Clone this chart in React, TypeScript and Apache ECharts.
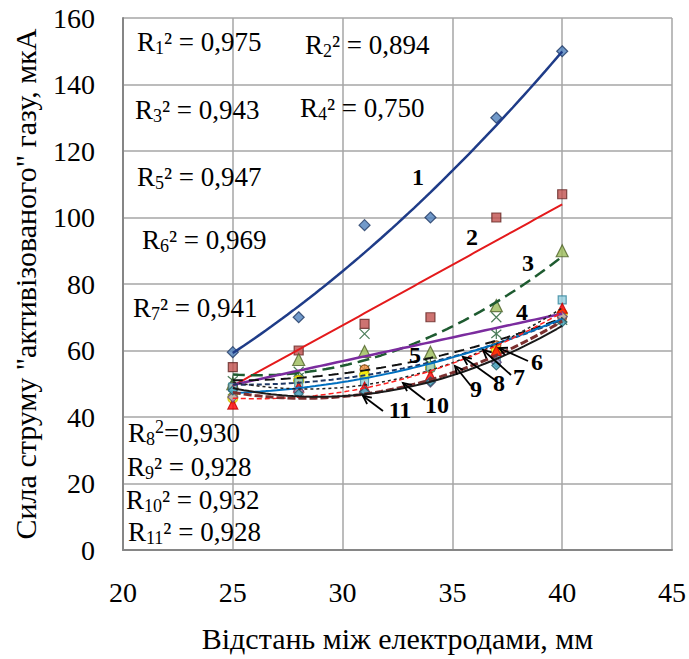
import React, { useEffect, useRef } from "react";
import * as echarts from "echarts";

// ---------- data ----------
const xValues = [25, 28, 31, 34, 37, 40];
const s1 = [59.5, 70, 97.7, 100, 130, 150];
const s2 = [55, 60, 68, 70, 100, 107];
const s3 = [50, 57.3, 59.7, 59.5, 73.5, 90];
const s4 = [48, 53.6, 65, 55.6, 70, 70];
const s5 = [51, 52, 54.3, 56, 65, 69];
const s6 = [49, 51, 54.3, 54.6, 61.5, 70];
const s7 = [45.7, 51, 52.6, 55, 60, 71];
const s8 = [49, 50.3, 50.6, 55, 57.2, 75.2];
const s9 = [43.9, 49, 49, 52.5, 60, 72.7];
const s10 = [46, 47.8, 47.5, 50.5, 56.5, 70.2];
const s11 = [48, 47, 47.6, 50.6, 55.5, 68.5];
const seriesValues = [s1, s2, s3, s4, s5, s6, s7, s8, s9, s10, s11];
const trendDegree = [2, 1, 2, 1, 2, 2, 2, 2, 2, 2, 2];
const r2Values = ["0,975", "0,894", "0,943", "0,750", "0,947", "0,969", "0,941", "0,930", "0,928", "0,932", "0,928"];
const curveNames = ["1", "2", "3", "4", "5", "6", "7", "8", "9", "10", "11"];
const xAxisTitle = "Відстань між електродами, мм";
const yAxisTitle = "Сила струму \"активізованого\" газу, мкА";

const FONT = "'Liberation Serif', 'Times New Roman', serif";

const X_PATH = "path://M0,0L10,10M10,0L0,10";
const STAR_PATH = "path://M0,0L10,10M10,0L0,10M5,-1L5,11";

const markerStyles = [
  { symbol: "diamond", size: 11, color: "#4F81BD", border: "#1F3864" },
  { symbol: "rect", size: 9, color: "#C0504D", border: "#632523" },
  { symbol: "triangle", size: 12, color: "#9BBB59", border: "#4F6228" },
  { symbol: X_PATH, size: 10, color: "none", border: "#1E5B30" },
  { symbol: STAR_PATH, size: 10, color: "none", border: "#1E5B30" },
  { symbol: "circle", size: 9, color: "#F79646", border: "#7F3F00" },
  { symbol: "circle", size: 10, color: "#FFFF00", border: "#C9B800" },
  { symbol: "rect", size: 8, color: "#93CDDD", border: "#31859C" },
  { symbol: "triangle", size: 10, color: "#FF0000", border: "#C00000" },
  { symbol: "diamond", size: 10, color: "#B3A2C7", border: "#604A7B" },
  { symbol: "diamond", size: 9, color: "#4BACC6", border: "#215968" },
];

const trendStyles = [
  { color: "#1F3C88", width: 2.5, type: "solid" },
  { color: "#E41A1C", width: 2, type: "solid" },
  { color: "#1E5B30", width: 2.5, type: [12, 6] },
  { color: "#7B2C9E", width: 2.5, type: "solid" },
  { color: "#111111", width: 2, type: [10, 6] },
  { color: "#1F3864", width: 2, type: [5, 3] },
  { color: "#0070C0", width: 2, type: "solid" },
  { color: "#222222", width: 1.5, type: [3, 3] },
  { color: "#FF2020", width: 1.5, type: [5, 3] },
  { color: "#7B3030", width: 3, type: [8, 3] },
  { color: "#1A1A1A", width: 2, type: "solid" },
];

// ---------- least squares trend ----------
function solve(A: number[][], b: number[]): number[] {
  const n = b.length;
  const M = A.map((r, i) => [...r, b[i]]);
  for (let i = 0; i < n; i++) {
    let p = i;
    for (let k = i + 1; k < n; k++) if (Math.abs(M[k][i]) > Math.abs(M[p][i])) p = k;
    [M[i], M[p]] = [M[p], M[i]];
    for (let k = i + 1; k < n; k++) {
      const f = M[k][i] / M[i][i];
      for (let j = i; j <= n; j++) M[k][j] -= f * M[i][j];
    }
  }
  const x = new Array(n).fill(0);
  for (let i = n - 1; i >= 0; i--) {
    let s = M[i][n];
    for (let j = i + 1; j < n; j++) s -= M[i][j] * x[j];
    x[i] = s / M[i][i];
  }
  return x;
}
function polyfit(xs: number[], ys: number[], deg: number): number[] {
  const n = deg + 1;
  const A: number[][] = [];
  const b: number[] = [];
  for (let i = 0; i < n; i++) {
    A.push([]);
    for (let j = 0; j < n; j++) A[i].push(xs.reduce((s, x) => s + Math.pow(x, i + j), 0));
    b.push(xs.reduce((s, x, k) => s + Math.pow(x, i) * ys[k], 0));
  }
  return solve(A, b);
}
function trendPoints(ys: number[], deg: number): number[][] {
  const c = polyfit(xValues, ys, deg);
  const pts: number[][] = [];
  const x0 = xValues[0];
  const x1 = xValues[xValues.length - 1];
  for (let i = 0; i <= 60; i++) {
    const x = x0 + ((x1 - x0) * i) / 60;
    pts.push([x, c.reduce((s, ci, k) => s + ci * Math.pow(x, k), 0)]);
  }
  return pts;
}

// ---------- annotations ----------
const r2Pos = [
  [137, 42], [305, 45], [135, 110], [300, 108], [137, 177], [142, 240],
  [133, 308], [128, 433], [127, 467], [126, 500], [128, 532],
];
const labelPos = [
  [418, 177], [472, 237], [528, 263], [522, 312], [415, 355], [537, 362],
  [519, 377], [499, 383], [476, 389], [437, 405], [400, 410],
];
const arrows: { [k: number]: number[] } = {
  5: [528, 361, 499, 348],
  6: [511, 375, 483, 350],
  7: [495, 380, 463, 357],
  8: [471, 386, 455, 366],
  9: [425, 400, 403, 383],
  10: [383, 411, 363, 396],
};

function r2Text(i: number) {
  const sub = String(i + 1);
  const big = `27px ${FONT}`;
  const small = `18px ${FONT}`;
  const rich: any = {
    r: { font: big, fontSize: 27, fontFamily: FONT, lineHeight: 30, fill: "#000" },
    s: { font: small, fontSize: 18, fontFamily: FONT, lineHeight: 14, verticalAlign: "bottom", fill: "#000" },
    p: { font: small, fontSize: 18, fontFamily: FONT, lineHeight: 14, verticalAlign: "top", fill: "#000" },
  };
  const text = i === 7
    ? `{r|R}{s|${sub}}{p|2}{r|=${r2Values[i]}}`
    : `{r|R}{s|${sub}}{r|² = ${r2Values[i]}}`;
  return {
    type: "text",
    x: r2Pos[i][0],
    y: r2Pos[i][1],
    style: { text, rich, align: "left", verticalAlign: "middle", font: big, fill: "#000" },
    z: 100,
  };
}

function arrowEls(a: number[]) {
  const [fx, fy, tx, ty] = a;
  const dx = tx - fx;
  const dy = ty - fy;
  const len = Math.hypot(dx, dy);
  const ux = dx / len;
  const uy = dy / len;
  const L = 9;
  const th = 0.45;
  const h = (s: number) => {
    const c = Math.cos(s * th);
    const sn = Math.sin(s * th);
    const rx = ux * c - uy * sn;
    const ry = ux * sn + uy * c;
    return [tx - L * rx, ty - L * ry];
  };
  return [
    { type: "line", shape: { x1: fx, y1: fy, x2: tx, y2: ty }, style: { stroke: "#000", lineWidth: 1.8 }, z: 100 },
    { type: "polyline", shape: { points: [h(1), [tx, ty], h(-1)] }, style: { stroke: "#000", lineWidth: 1.8, fill: null }, z: 100 },
  ];
}

export default function App() {
  const ref = useRef<HTMLDivElement>(null);
  useEffect(() => {
    if (!ref.current) return;
    const chart = echarts.init(ref.current, null, { renderer: "svg" });

    const series: any[] = [];
    seriesValues.forEach((ys, i) => {
      const m = markerStyles[i];
      series.push({
        type: "scatter",
        data: xValues.map((x, k) => [x, ys[k]]),
        symbol: m.symbol,
        symbolSize: m.size,
        itemStyle: { color: m.color, borderColor: m.border, borderWidth: 1.2 },
        z: 2,
      });
    });
    seriesValues.forEach((ys, i) => {
      const t = trendStyles[i];
      series.push({
        type: "line",
        data: trendPoints(ys, trendDegree[i]),
        showSymbol: false,
        symbol: "none",
        smooth: false,
        lineStyle: { color: t.color, width: t.width, type: t.type },
        z: 3,
      });
    });

    const graphics: any[] = [];
    r2Values.forEach((_, i) => graphics.push(r2Text(i)));
    curveNames.forEach((name, i) => {
      graphics.push({
        type: "text",
        x: labelPos[i][0],
        y: labelPos[i][1],
        style: {
          text: name,
          font: `bold 24px ${FONT}`,
          fill: "#000",
          align: "center",
          verticalAlign: "middle",
        },
        z: 100,
      });
    });
    Object.keys(arrows).forEach((k) => graphics.push(...arrowEls(arrows[Number(k)])));

    chart.setOption({
      animation: false,
      backgroundColor: "#fff",
      grid: { left: 123, top: 18, right: 16, bottom: 109, containLabel: false },
      xAxis: {
        type: "value",
        min: 20,
        max: 45,
        interval: 5,
        name: xAxisTitle,
        nameLocation: "middle",
        nameGap: 73,
        nameTextStyle: { fontFamily: FONT, fontSize: 30, color: "#000", verticalAlign: "top" },
        axisLine: { show: true, onZero: false, lineStyle: { color: "#868686", width: 2 } },
        axisTick: { show: false },
        axisLabel: { fontFamily: FONT, fontSize: 28, color: "#000", margin: 28 },
        splitLine: { show: true, lineStyle: { color: "#A6A6A6", width: 1.5 } },
      },
      yAxis: {
        type: "value",
        min: 0,
        max: 160,
        interval: 20,
        name: yAxisTitle,
        nameLocation: "middle",
        nameGap: 83,
        nameRotate: 90,
        nameTextStyle: { fontFamily: FONT, fontSize: 30, color: "#000" },
        axisLine: { show: true, onZero: false, lineStyle: { color: "#868686", width: 2 } },
        axisTick: { show: false },
        axisLabel: { fontFamily: FONT, fontSize: 28, color: "#000", margin: 28 },
        splitLine: { show: true, lineStyle: { color: "#A6A6A6", width: 1.5 } },
      },
      series,
      graphic: graphics,
    });
    return () => chart.dispose();
  }, []);
  return <div ref={ref} style={{ position: "fixed", left: 0, top: 0, width: 689, height: 659 }} />;
}
